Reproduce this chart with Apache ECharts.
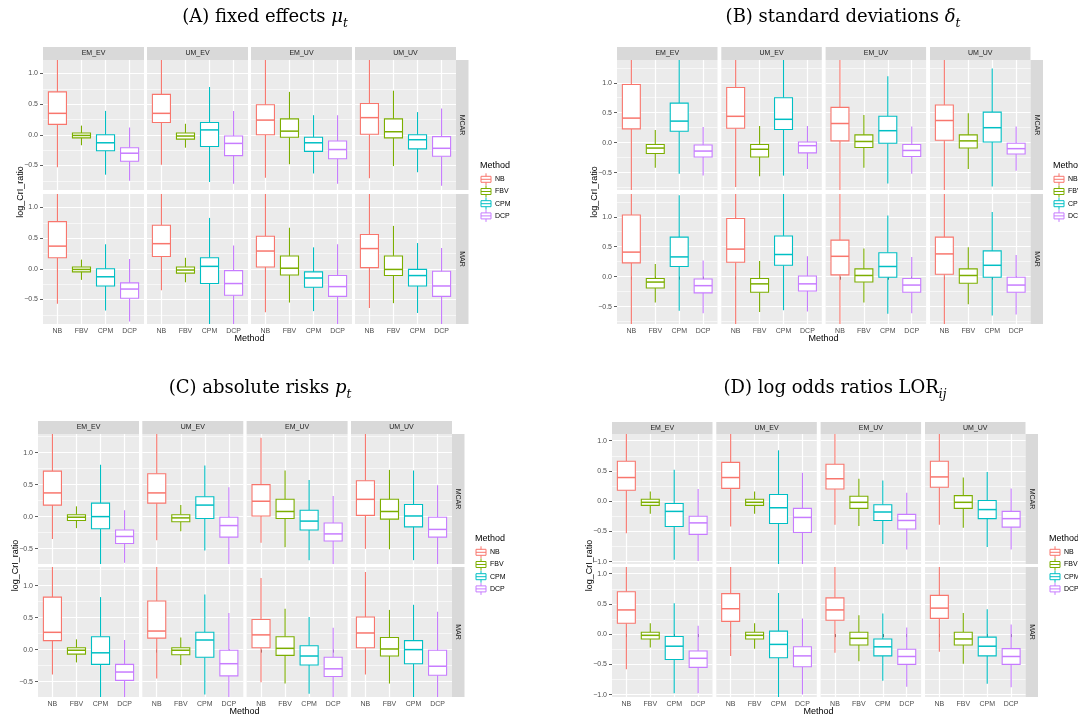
<!DOCTYPE html>
<html><head><meta charset="utf-8">
<script src="https://cdn.jsdelivr.net/npm/echarts@6/dist/echarts.min.js"></script>
<style>html,body{margin:0;padding:0;background:#fff}#chart{width:1078px;height:716px}</style>
</head><body><div id="chart"></div>
<script>
// ---------- data ----------
const methods = ['NB', 'FBV', 'CPM', 'DCP'];
const conditions = ['EM_EV', 'UM_EV', 'EM_UV', 'UM_UV'];
const missingness = ['MCAR', 'MAR'];
const yTickValues = [-1.0, -0.5, 0.0, 0.5, 1.0];
// each entry: per condition, per method [min, q1, median, q3, max]
const A_MCAR = [
  [[-0.53,0.17,0.35,0.70,1.40],[-0.17,-0.05,-0.01,0.03,0.15],[-0.65,-0.26,-0.13,0.00,0.39],[-0.75,-0.43,-0.30,-0.21,0.12]],
  [[-0.49,0.20,0.35,0.66,1.40],[-0.21,-0.07,-0.02,0.03,0.18],[-0.77,-0.19,0.08,0.20,0.78],[-0.80,-0.34,-0.14,-0.02,0.39]],
  [[-0.70,0.00,0.24,0.49,1.40],[-0.48,-0.04,0.06,0.26,0.70],[-0.63,-0.27,-0.13,-0.04,0.32],[-0.80,-0.39,-0.24,-0.10,0.32]],
  [[-0.71,0.01,0.28,0.51,1.40],[-0.51,-0.05,0.05,0.26,0.72],[-0.61,-0.23,-0.08,0.00,0.37],[-0.83,-0.35,-0.22,-0.03,0.43]]
];
const A_MAR = [
  [[-0.57,0.18,0.37,0.77,1.40],[-0.18,-0.05,-0.01,0.03,0.15],[-0.68,-0.28,-0.13,0.00,0.40],[-0.86,-0.48,-0.33,-0.23,0.16]],
  [[-0.35,0.20,0.41,0.71,1.40],[-0.22,-0.07,-0.02,0.03,0.18],[-0.92,-0.24,0.04,0.18,0.83],[-1.00,-0.43,-0.24,-0.03,0.38]],
  [[-0.71,0.03,0.29,0.53,1.40],[-0.55,-0.10,0.01,0.21,0.67],[-0.69,-0.30,-0.15,-0.05,0.35],[-1.00,-0.45,-0.29,-0.11,0.40]],
  [[-0.64,0.02,0.33,0.56,1.40],[-0.56,-0.11,-0.01,0.21,0.70],[-0.72,-0.28,-0.11,-0.01,0.42],[-1.00,-0.45,-0.28,-0.04,0.34]]
];
const B_MCAR = [
  [[-1.00,0.23,0.41,0.97,1.60],[-0.42,-0.18,-0.09,-0.03,0.21],[-0.52,0.19,0.36,0.66,1.60],[-0.55,-0.24,-0.14,-0.04,0.26]],
  [[-0.74,0.24,0.44,0.92,1.60],[-0.56,-0.24,-0.11,-0.03,0.28],[-0.55,0.22,0.39,0.75,1.60],[-0.44,-0.17,-0.05,0.01,0.28]],
  [[-1.00,0.03,0.32,0.59,1.60],[-0.42,-0.08,0.02,0.13,0.46],[-0.68,-0.01,0.20,0.44,1.11],[-0.52,-0.23,-0.13,-0.03,0.27]],
  [[-1.00,0.04,0.37,0.63,1.60],[-0.44,-0.09,0.03,0.13,0.49],[-0.73,0.01,0.25,0.51,1.24],[-0.47,-0.19,-0.10,-0.01,0.27]]
];
const B_MAR = [
  [[-1.00,0.23,0.41,1.03,1.60],[-0.43,-0.19,-0.09,-0.03,0.21],[-0.57,0.17,0.33,0.66,1.36],[-0.61,-0.27,-0.15,-0.04,0.27]],
  [[-1.00,0.24,0.46,0.97,1.60],[-0.59,-0.26,-0.12,-0.03,0.26],[-0.56,0.19,0.37,0.68,1.60],[-0.58,-0.24,-0.12,0.01,0.34]],
  [[-1.00,0.03,0.34,0.61,1.60],[-0.43,-0.09,0.02,0.13,0.47],[-0.62,-0.01,0.17,0.40,1.02],[-0.61,-0.26,-0.14,-0.03,0.33]],
  [[-1.00,0.04,0.38,0.66,1.60],[-0.46,-0.11,0.02,0.13,0.49],[-0.65,-0.01,0.19,0.43,1.08],[-0.63,-0.26,-0.14,-0.01,0.36]]
];
const C_MCAR = [
  [[-0.35,0.18,0.37,0.71,1.40],[-0.18,-0.06,-0.01,0.03,0.16],[-0.90,-0.19,0.00,0.21,0.81],[-0.72,-0.42,-0.31,-0.21,0.10]],
  [[-0.37,0.21,0.37,0.67,1.40],[-0.23,-0.08,-0.02,0.03,0.18],[-0.53,-0.03,0.18,0.31,0.80],[-0.90,-0.32,-0.14,-0.01,0.46]],
  [[-0.41,0.01,0.24,0.50,1.23],[-0.48,-0.03,0.08,0.27,0.72],[-0.68,-0.21,-0.07,0.10,0.57],[-0.90,-0.38,-0.27,-0.10,0.32]],
  [[-0.50,0.02,0.27,0.56,1.40],[-0.51,-0.04,0.08,0.27,0.73],[-0.68,-0.16,0.01,0.19,0.72],[-0.90,-0.32,-0.20,-0.01,0.49]]
];
const C_MAR = [
  [[-0.39,0.14,0.27,0.82,1.40],[-0.20,-0.07,-0.01,0.03,0.16],[-0.90,-0.23,-0.05,0.20,0.82],[-0.90,-0.48,-0.35,-0.23,0.15]],
  [[-0.45,0.18,0.29,0.76,1.40],[-0.24,-0.08,-0.01,0.03,0.19],[-0.70,-0.12,0.15,0.27,0.86],[-0.90,-0.41,-0.22,-0.01,0.57]],
  [[-0.51,0.03,0.23,0.47,1.12],[-0.53,-0.09,0.02,0.20,0.64],[-0.69,-0.24,-0.10,0.06,0.51],[-0.90,-0.42,-0.30,-0.12,0.34]],
  [[-0.39,0.03,0.26,0.51,1.21],[-0.53,-0.10,0.01,0.19,0.62],[-0.90,-0.22,0.00,0.14,0.70],[-0.90,-0.40,-0.26,-0.01,0.59]]
];
const D_MCAR = [
  [[-0.53,0.18,0.39,0.66,1.30],[-0.21,-0.07,-0.02,0.03,0.16],[-0.97,-0.42,-0.17,-0.04,0.52],[-0.99,-0.55,-0.36,-0.25,0.20]],
  [[-0.42,0.21,0.39,0.64,1.30],[-0.21,-0.07,-0.02,0.03,0.16],[-1.20,-0.37,-0.11,0.11,0.84],[-1.20,-0.52,-0.27,-0.12,0.47]],
  [[-0.39,0.20,0.37,0.61,1.30],[-0.41,-0.12,-0.02,0.08,0.37],[-0.71,-0.32,-0.18,-0.06,0.34],[-0.80,-0.46,-0.32,-0.22,0.14]],
  [[-0.39,0.23,0.40,0.66,1.30],[-0.44,-0.12,-0.02,0.09,0.39],[-0.76,-0.29,-0.14,0.01,0.48],[-0.80,-0.43,-0.29,-0.17,0.21]]
];
const D_MAR = [
  [[-0.58,0.18,0.40,0.70,1.30],[-0.22,-0.08,-0.02,0.03,0.18],[-0.98,-0.42,-0.20,-0.04,0.51],[-0.98,-0.55,-0.40,-0.28,0.14]],
  [[-0.36,0.21,0.42,0.67,1.30],[-0.24,-0.08,-0.02,0.03,0.18],[-1.20,-0.39,-0.17,0.05,0.68],[-1.00,-0.54,-0.36,-0.21,0.26]],
  [[-0.31,0.23,0.40,0.60,1.30],[-0.45,-0.18,-0.07,0.03,0.31],[-0.77,-0.36,-0.21,-0.08,0.34],[-0.87,-0.50,-0.37,-0.25,0.11]],
  [[-0.29,0.26,0.43,0.64,1.30],[-0.49,-0.18,-0.08,0.03,0.35],[-0.82,-0.36,-0.20,-0.05,0.41],[-0.88,-0.50,-0.37,-0.24,0.16]]
];
const panelTitles = [
  '{n|(A) fixed effects }{i|μ}{s|t}',
  '{n|(B) standard deviations }{i|δ}{s|t}',
  '{n|(C) absolute risks }{i|p}{s|t}',
  '{n|(D) log odds ratios LOR}{s|ij}'
];
const yAxisTitle = 'log_CrI_ratio';
const xAxisTitle = 'Method';
const legendTitle = 'Method';

// ---------- layout / style ----------
const colors = ['#F8766D', '#7CAE00', '#00BFC4', '#C77CFF'];
const SANS = 'Liberation Sans, Arial, sans-serif';
const SERIF = 'DejaVu Serif, Liberation Serif, serif';
const panels = [
  {data: [A_MCAR, A_MAR], cols: [43, 147, 251, 355], colW: 101, rows: [60, 194], rowH: 130, stripTop: 47,
   yMin: -0.90, yMax: 1.22, title: [265, 19], legend: [480, 166], yTitle: [20.5, 192], xTitle: [249.5, 339]},
  {data: [B_MCAR, B_MAR], cols: [617, 721.3, 825.6, 930], colW: 100.5, rows: [60, 194], rowH: 130, stripTop: 47,
   yMin: -0.79, yMax: 1.38, title: [843, 19], legend: [1053, 166], yTitle: [594.5, 192], xTitle: [823.5, 339]},
  {data: [C_MCAR, C_MAR], cols: [38, 142.3, 246.6, 351], colW: 101, rows: [434, 567], rowH: 130, stripTop: 421,
   yMin: -0.74, yMax: 1.29, title: [260, 390], legend: [475, 539], yTitle: [15.5, 565.5], xTitle: [244.5, 711.5]},
  {data: [D_MCAR, D_MAR], cols: [612, 716.3, 820.6, 925], colW: 100.5, rows: [434, 567], rowH: 130, stripTop: 422,
   yMin: -1.04, yMax: 1.11, title: [835, 390], legend: [1049, 539], yTitle: [589.5, 565.5], xTitle: [818.5, 711.5]}
];

const grids = [], xAxes = [], yAxes = [], series = [], graphics = [];

function renderBox(params, api) {
  const x = api.value(0);
  const lo = api.coord([x, api.value(1)]);
  const q1 = api.coord([x, api.value(2)]);
  const md = api.coord([x, api.value(3)]);
  const q3 = api.coord([x, api.value(4)]);
  const hi = api.coord([x, api.value(5)]);
  const w = api.size([0.75, 0])[0];
  const c = colors[params.dataIndex];
  return {
    type: 'group',
    children: [
      {type: 'line', shape: {x1: lo[0], y1: lo[1], x2: q1[0], y2: q1[1]}, style: {stroke: c, lineWidth: 1.1}},
      {type: 'line', shape: {x1: q3[0], y1: q3[1], x2: hi[0], y2: hi[1]}, style: {stroke: c, lineWidth: 1.1}},
      {type: 'rect', shape: {x: q3[0] - w / 2, y: q3[1], width: w, height: q1[1] - q3[1]},
       style: {fill: '#ffffff', stroke: c, lineWidth: 1.1}},
      {type: 'line', shape: {x1: md[0] - w / 2, y1: md[1], x2: md[0] + w / 2, y2: md[1]}, style: {stroke: c, lineWidth: 1.5}}
    ]
  };
}

const fmtY = v => {
  if (Math.abs(v * 2 - Math.round(v * 2)) > 1e-6) return '';
  return v.toFixed(1).replace('-', '\u2212');
};

panels.forEach((p, pi) => {
  p.rows.forEach((rowTop, r) => {
    p.cols.forEach((colLeft, c) => {
      const gi = grids.length;
      grids.push({left: colLeft, top: rowTop, width: p.colW, height: p.rowH, show: true,
        backgroundColor: '#EBEBEB', borderWidth: 0, containLabel: false});
      const bottom = r === p.rows.length - 1;
      const left = c === 0;
      xAxes.push({
        type: 'value', gridIndex: gi, min: 0.4, max: 4.6,
        axisLine: {show: false},
        axisTick: {show: bottom, customValues: [1, 2, 3, 4], length: 3, lineStyle: {color: '#333333', width: 0.8}},
        axisLabel: {show: bottom, customValues: [1, 2, 3, 4], fontSize: 7, color: '#4D4D4D', fontFamily: SANS, margin: 4,
          formatter: v => methods[Math.round(v) - 1] || ''},
        splitLine: {show: true, lineStyle: {color: '#ffffff', width: 1.2}}
      });
      const yt = yTickValues.filter(v => v >= p.yMin && v <= p.yMax);
      yAxes.push({
        type: 'value', gridIndex: gi, min: p.yMin, max: p.yMax, splitNumber: 5,
        axisLine: {show: false},
        axisTick: {show: left, customValues: yt, length: 3, lineStyle: {color: '#333333', width: 0.8}},
        axisLabel: {show: left, customValues: yt, fontSize: 7, color: '#4D4D4D', fontFamily: SANS, margin: 5,
          formatter: fmtY},
        splitLine: {show: true, lineStyle: {color: '#ffffff', width: 1.2}},
        minorTick: {show: false, splitNumber: 2},
        minorSplitLine: {show: true, lineStyle: {color: '#ffffff', width: 0.6}}
      });
      series.push({
        type: 'custom', xAxisIndex: gi, yAxisIndex: gi, clip: true,
        renderItem: renderBox,
        encode: {x: 0, y: [1, 2, 3, 4, 5]},
        data: p.data[r][c].map((s, i) => [i + 1].concat(s)),
        silent: true, animation: false
      });
      if (r === 0) {
        graphics.push({type: 'rect', silent: true, shape: {x: colLeft, y: p.stripTop, width: p.colW, height: rowTop - p.stripTop},
          style: {fill: '#D9D9D9'}});
        graphics.push({type: 'text', silent: true, x: colLeft + p.colW / 2, y: (p.stripTop + rowTop) / 2,
          style: {text: conditions[c], fontSize: 7, fill: '#1A1A1A', fontFamily: SANS, align: 'center', verticalAlign: 'middle'}});
      }
    });
    const rx = p.cols[3] + p.colW;
    graphics.push({type: 'rect', silent: true, shape: {x: rx, y: rowTop, width: 12.5, height: p.rowH}, style: {fill: '#D9D9D9'}});
    graphics.push({type: 'text', silent: true, x: rx + 6.25, y: rowTop + p.rowH / 2, rotation: -Math.PI / 2,
      style: {text: missingness[r], fontSize: 7, fill: '#1A1A1A', fontFamily: SANS, align: 'center', verticalAlign: 'middle'}});
  });
  graphics.push({type: 'text', silent: true, x: p.title[0], y: p.title[1],
    style: {text: panelTitles[pi], align: 'center', verticalAlign: 'middle', fill: '#000',
      rich: {
        n: {fontSize: 18, fontFamily: SERIF, fill: '#000', verticalAlign: 'top', padding: [0, 0, 3, 0]},
        i: {fontSize: 18, fontFamily: SERIF, fontStyle: 'italic', fill: '#000', verticalAlign: 'top', padding: [0, 0, 3, 0]},
        s: {fontSize: 12, fontFamily: SERIF, fontStyle: 'italic', fill: '#000', verticalAlign: 'bottom'}
      }}});
  graphics.push({type: 'text', silent: true, x: p.yTitle[0], y: p.yTitle[1], rotation: Math.PI / 2,
    style: {text: yAxisTitle, fontSize: 9, fill: '#000', fontFamily: SANS, align: 'center', verticalAlign: 'middle'}});
  graphics.push({type: 'text', silent: true, x: p.xTitle[0], y: p.xTitle[1],
    style: {text: xAxisTitle, fontSize: 9, fill: '#000', fontFamily: SANS, align: 'center', verticalAlign: 'middle'}});
  const [lx, ly] = p.legend;
  graphics.push({type: 'text', silent: true, x: lx, y: ly,
    style: {text: legendTitle, fontSize: 9, fill: '#000', fontFamily: SANS, align: 'left', verticalAlign: 'middle'}});
  methods.forEach((m, k) => {
    const cy = ly + 13.3 + k * 12.2;
    const kx = lx + 6;
    const col = colors[k];
    graphics.push({type: 'line', silent: true, shape: {x1: kx, y1: cy - 6, x2: kx, y2: cy + 6}, style: {stroke: col, lineWidth: 1}});
    graphics.push({type: 'rect', silent: true, shape: {x: kx - 5, y: cy - 3, width: 10, height: 6},
      style: {fill: '#fff', stroke: col, lineWidth: 1}});
    graphics.push({type: 'line', silent: true, shape: {x1: kx - 5, y1: cy, x2: kx + 5, y2: cy}, style: {stroke: col, lineWidth: 1}});
    graphics.push({type: 'text', silent: true, x: lx + 15, y: cy,
      style: {text: m, fontSize: 7, fill: '#000', fontFamily: SANS, align: 'left', verticalAlign: 'middle'}});
  });
});

const chart = echarts.init(document.getElementById('chart'), null, {renderer: 'canvas', width: 1078, height: 716});
chart.setOption({
  animation: false,
  backgroundColor: '#ffffff',
  grid: grids,
  xAxis: xAxes,
  yAxis: yAxes,
  series: series,
  graphic: {elements: graphics}
});
</script></body></html>
